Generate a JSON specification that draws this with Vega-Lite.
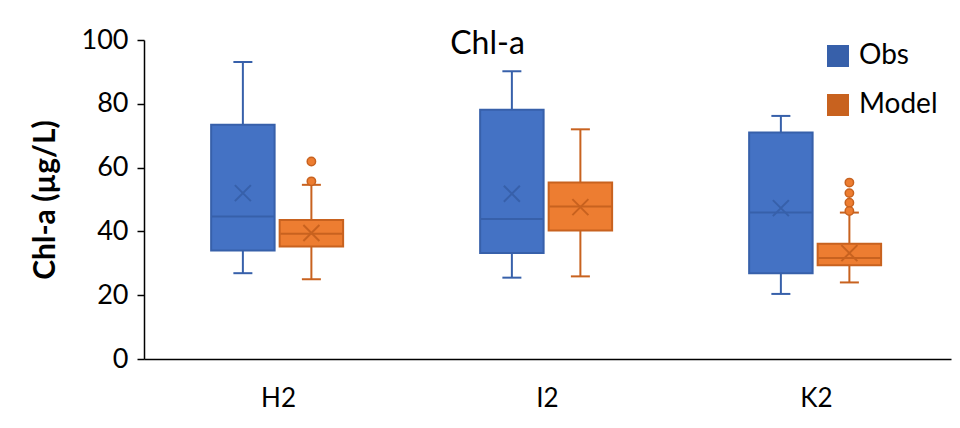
{
  "$schema": "https://vega.github.io/schema/vega-lite/v6.json",
  "width": 807,
  "height": 319,
  "autosize": {"type": "none"},
  "padding": {"left": 144, "top": 40, "right": 9, "bottom": 69},
  "background": "white",
  "config": {"view": {"stroke": null}, "font": "Lato",
    "legend": {"orient": "none", "legendX": 680, "legendY": 2, "title": null, "symbolType": "square", "symbolSize": 420, "symbolStrokeWidth": 1.5, "symbolOpacity": 1, "labelFontSize": 28, "labelFont": "Lato", "labelColor": "black", "labelOffset": 7, "rowPadding": 21, "padding": 0}},
  "title": {"text": "Chl-a", "fontSize": 32, "font": "Lato", "fontWeight": "normal", "color": "black", "anchor": "middle", "frame": "group", "offset": -60, "baseline": "alphabetic", "dx": -60},
  "datasets": {
    "stats": [
      {"site": "H2", "series": "Obs", "lower": 26.9, "q1": 34.0, "median": 44.7, "mean": 52.0, "q3": 73.4, "upper": 93.1},
      {"site": "H2", "series": "Model", "lower": 25.0, "q1": 35.3, "median": 39.3, "mean": 39.5, "q3": 43.6, "upper": 54.6},
      {"site": "I2", "series": "Obs", "lower": 25.5, "q1": 33.2, "median": 43.9, "mean": 51.8, "q3": 78.1, "upper": 90.2},
      {"site": "I2", "series": "Model", "lower": 25.9, "q1": 40.3, "median": 47.8, "mean": 47.6, "q3": 55.3, "upper": 72.0},
      {"site": "K2", "series": "Obs", "lower": 20.4, "q1": 26.9, "median": 45.9, "mean": 47.3, "q3": 71.0, "upper": 76.2},
      {"site": "K2", "series": "Model", "lower": 24.0, "q1": 29.4, "median": 31.7, "mean": 33.2, "q3": 36.1, "upper": 45.9}
    ],
    "outliers": [
      {"site": "H2", "series": "Model", "value": 61.9},
      {"site": "H2", "series": "Model", "value": 55.7},
      {"site": "K2", "series": "Model", "value": 55.3},
      {"site": "K2", "series": "Model", "value": 52.0},
      {"site": "K2", "series": "Model", "value": 49.0},
      {"site": "K2", "series": "Model", "value": 46.4}
    ]
  },
  "encoding": {
    "x": {"field": "site", "type": "nominal", "sort": ["H2", "I2", "K2"], "scale": {"paddingInner": 0, "paddingOuter": 0},
      "axis": {"title": null, "labelAngle": 0, "ticks": false, "domainColor": "black", "domainWidth": 1.5, "labelFontSize": 26, "labelFont": "Lato", "labelPadding": 26, "labelColor": "black"}},
    "xOffset": {"field": "series", "type": "nominal", "scale": {"domain": ["Obs", "Model"], "paddingInner": 0.0735, "paddingOuter": 1.015, "align": 0.49}}
  },
  "layer": [
    {
      "data": {"name": "stats"},
      "mark": {"type": "rule", "strokeWidth": 2},
      "encoding": {
        "y": {"field": "lower", "type": "quantitative", "scale": {"domain": [0, 100], "nice": false},
          "axis": {"title": "Chl-a (µg/L)", "titleFontSize": 30, "titleFontWeight": "bold", "titleFont": "Lato", "titleColor": "black", "titlePadding": 21, "values": [0, 20, 40, 60, 80, 100], "grid": false, "domainColor": "black", "domainWidth": 1.5, "tickColor": "black", "tickSize": 7, "tickWidth": 1.5, "labelFontSize": 27, "labelFont": "Lato", "labelColor": "black", "labelPadding": 9}},
        "y2": {"field": "upper"},
        "stroke": {"field": "series", "type": "nominal", "scale": {"domain": ["Obs", "Model"], "range": ["#3760AA", "#C8621F"]}}
      }
    },
    {
      "data": {"name": "stats"},
      "mark": {"type": "tick", "size": 19, "thickness": 2, "opacity": 1},
      "encoding": {
        "y": {"field": "lower", "type": "quantitative"},
        "color": {"field": "series", "type": "nominal", "scale": {"domain": ["Obs", "Model"], "range": ["#3760AA", "#C8621F"]},
          "legend": {"encode": {"symbols": {"update": {"fill": {"scale": "fill", "field": "value"}, "stroke": {"scale": "stroke", "field": "value"}}}}}}
      }
    },
    {
      "data": {"name": "stats"},
      "mark": {"type": "tick", "size": 19, "thickness": 2, "opacity": 1},
      "encoding": {
        "y": {"field": "upper", "type": "quantitative"},
        "color": {"field": "series", "type": "nominal"}
      }
    },
    {
      "data": {"name": "stats"},
      "mark": {"type": "bar", "strokeWidth": 2},
      "encoding": {
        "y": {"field": "q1", "type": "quantitative"},
        "y2": {"field": "q3"},
        "fill": {"field": "series", "type": "nominal", "scale": {"domain": ["Obs", "Model"], "range": ["#4472C4", "#ED7D31"]},
          "legend": {"encode": {"symbols": {"update": {"fill": {"scale": "fill", "field": "value"}, "stroke": {"scale": "stroke", "field": "value"}}}}}},
        "stroke": {"field": "series", "type": "nominal"}
      }
    },
    {
      "data": {"name": "stats"},
      "mark": {"type": "tick", "size": 62, "thickness": 2, "opacity": 1},
      "encoding": {
        "y": {"field": "median", "type": "quantitative"},
        "color": {"field": "series", "type": "nominal"}
      }
    },
    {
      "data": {"name": "stats"},
      "mark": {"type": "point", "shape": "M-1,-1L1,1M-1,1L1,-1", "size": 256, "filled": false, "strokeWidth": 2, "opacity": 1},
      "encoding": {
        "y": {"field": "mean", "type": "quantitative"},
        "stroke": {"field": "series", "type": "nominal"}
      }
    },
    {
      "data": {"name": "outliers"},
      "mark": {"type": "point", "shape": "circle", "size": 70, "filled": true, "strokeWidth": 1.5, "opacity": 1},
      "encoding": {
        "y": {"field": "value", "type": "quantitative"},
        "fill": {"field": "series", "type": "nominal"},
        "stroke": {"field": "series", "type": "nominal"}
      }
    }
  ]
}
